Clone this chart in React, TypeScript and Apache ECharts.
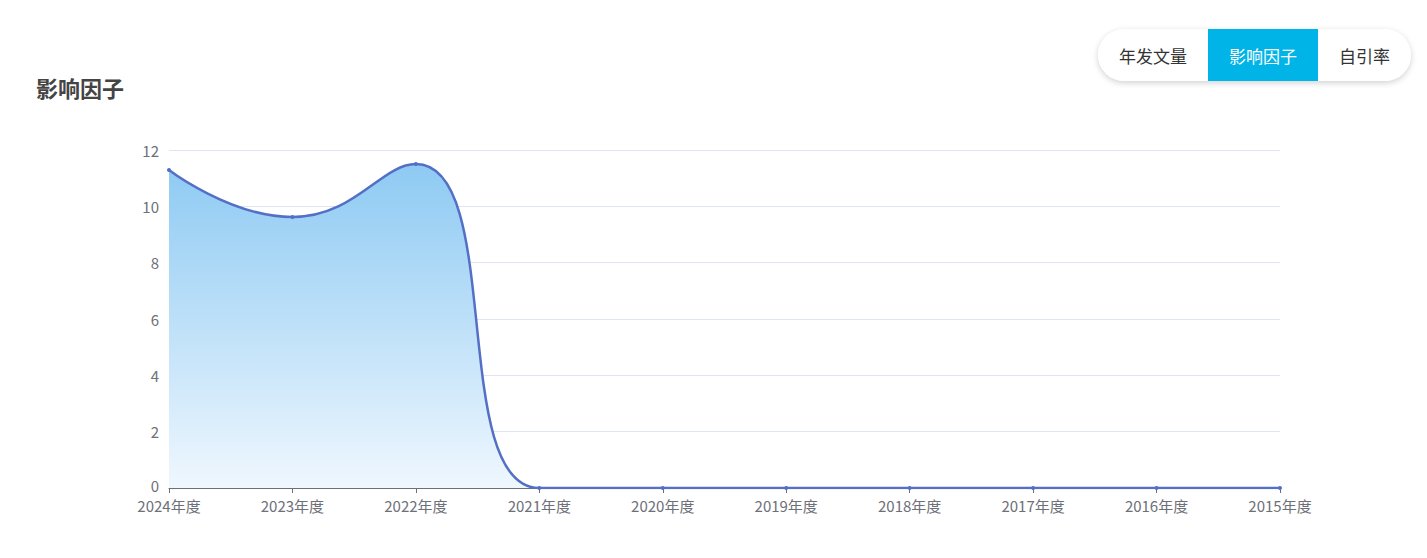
import React, { useEffect, useRef } from "react";
import * as echarts from "echarts";

const categories = ["2024年度", "2023年度", "2022年度", "2021年度", "2020年度", "2019年度", "2018年度", "2017年度", "2016年度", "2015年度"];
const impactFactor = [11.29, 9.62, 11.5, 0, 0, 0, 0, 0, 0, 0];
const yTicks = { min: 0, max: 12, interval: 2 };
const tabs = ["年发文量", "影响因子", "自引率"];
const activeTab = "影响因子";
const chartTitle = "影响因子";

const FONT = "'Noto Sans CJK SC', sans-serif";

export default function App() {
  const ref = useRef<HTMLDivElement>(null);
  useEffect(() => {
    if (!ref.current) return;
    const chart = echarts.init(ref.current, null, { renderer: "svg" });
    chart.setOption({
      animation: false,
      title: {
        text: chartTitle,
        left: 31,
        top: 71,
        textStyle: { fontSize: 22, fontWeight: "bold", color: "#444", fontFamily: FONT },
      },
      grid: { left: 169, right: 147, top: 150, bottom: 70 },
      xAxis: {
        type: "category",
        data: categories,
        boundaryGap: false,
        axisLine: { lineStyle: { color: "#6e7079" } },
        axisTick: { show: true, alignWithLabel: true },
        axisLabel: { color: "#6e7079", fontSize: 15, lineHeight: 16, margin: 9, fontFamily: FONT },
      },
      yAxis: {
        type: "value",
        min: yTicks.min,
        max: yTicks.max,
        interval: yTicks.interval,
        axisLabel: {
          color: "#6e7079",
          fontSize: 15,
          lineHeight: 15,
          margin: 10,
          fontFamily: FONT,
          formatter: (v: number) => (v === 0 ? "{z|0}" : String(v)),
          rich: { z: { color: "#6e7079", fontSize: 15, fontFamily: FONT, padding: [0, 0, 6, 0] } },
        },
        splitLine: { lineStyle: { color: "#e0e6f1" } },
      },
      series: [
        {
          type: "line",
          data: impactFactor,
          smooth: true,
          symbol: "circle",
          symbolSize: 4,
          itemStyle: { color: "#5470c6" },
          lineStyle: { color: "#5470c6", width: 2.5 },
          areaStyle: {
            opacity: 1,
            color: new echarts.graphic.LinearGradient(0, 0, 0, 1, [
              { offset: 0, color: "#8ecaf3" },
              { offset: 1, color: "#eff7fe" },
            ]),
          },
        },
      ],
    });
    return () => chart.dispose();
  }, []);

  return (
    <div style={{ position: "fixed", left: 0, top: 0, width: 1427, height: 558, background: "#fff" }}>
      <div ref={ref} style={{ position: "absolute", left: 0, top: 0, width: 1427, height: 558 }} />
      <div
        style={{
          position: "absolute",
          left: 1098,
          top: 29,
          width: 313,
          height: 52,
          borderRadius: 26,
          background: "#fff",
          boxShadow: "0 2px 6px rgba(0,0,0,0.18)",
          display: "flex",
          overflow: "hidden",
          fontFamily: FONT,
          fontSize: 17,
        }}
      >
        {tabs.map((t) => (
          <div
            key={t}
            style={{
              width: t === "自引率" ? 93 : 110,
              height: 52,
              display: "flex",
              alignItems: "center",
              justifyContent: "center",
              background: t === activeTab ? "#00b4e8" : "#fff",
              color: t === activeTab ? "#fff" : "#333",
            }}
          >
            {t}
          </div>
        ))}
      </div>
    </div>
  );
}
